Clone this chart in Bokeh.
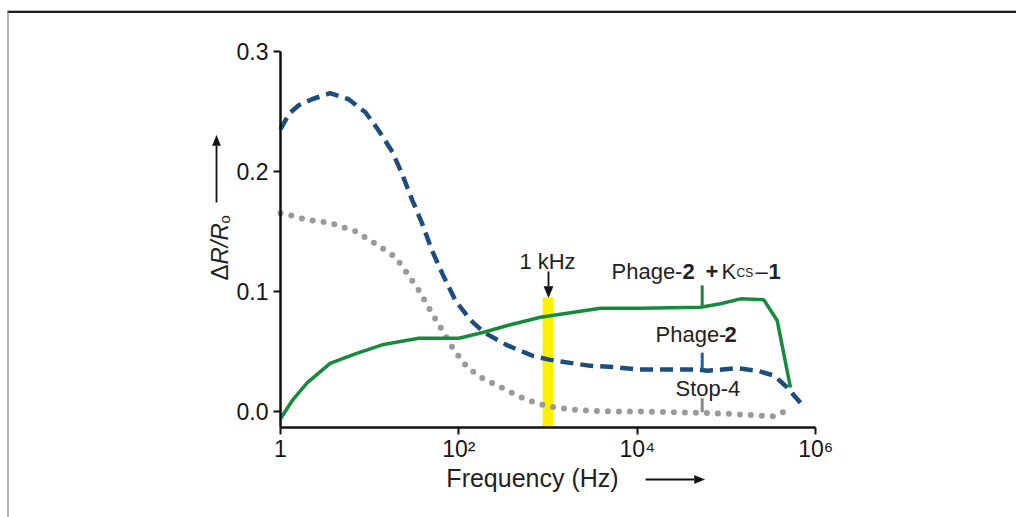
import math
from bokeh.plotting import figure
from bokeh.models import Label, FixedTicker, Range1d, LinearAxis, LogAxis
from bokeh.embed import file_html
from bokeh.resources import INLINE

# ---------------- data ----------------
freq_phage2 = [1, 1.25, 1.6, 2.25, 3.6, 5.8, 9, 12.6, 18, 23, 30, 39, 50, 65, 92,
               135, 190, 350, 690, 1060, 1940, 3000, 5500, 10000, 20000, 47000,
               61000, 132000, 220000, 340000, 480000, 735000]
dr_phage2 = [0.235, 0.248, 0.255, 0.260, 0.265, 0.260, 0.249, 0.234, 0.216, 0.198,
             0.176, 0.156, 0.134, 0.115, 0.092, 0.076, 0.066, 0.055, 0.046, 0.043,
             0.040, 0.038, 0.037, 0.035, 0.035, 0.035, 0.034, 0.036, 0.034, 0.030,
             0.020, 0.004]

freq_kcs = [1, 1.35, 2.0, 3.6, 6.9, 13.8, 35.5, 100, 190, 350, 820, 1940, 3860,
            10900, 51200, 85700, 143600, 261800, 369800, 521200]
dr_kcs = [-0.006, 0.009, 0.024, 0.040, 0.048, 0.0555, 0.061, 0.061, 0.066, 0.0716,
          0.0785, 0.0827, 0.086, 0.086, 0.0868, 0.0897, 0.0938, 0.093, 0.0758, 0.020]

freq_stop4 = [1, 1.35, 1.9, 3.6, 6.9, 12.6, 19.5, 26.3, 35.5, 48, 60, 88, 124, 175,
              270, 450, 755, 1260, 2510, 5460, 10900, 46900, 111000, 339000, 479000]
dr_stop4 = [0.165, 0.163, 0.160, 0.157, 0.150, 0.138, 0.1285, 0.115, 0.101, 0.084,
            0.072, 0.051, 0.037, 0.0286, 0.0216, 0.0133, 0.0064, 0.0031, 0.0008, 0.0,
            0.0, -0.001, -0.002, -0.004, 0.001]

x_ticks = [1, 100, 10000, 1000000]
x_tick_labels = ["1", "10\u00b2", "10\u2074", "10\u2076"]
y_ticks = [0.0, 0.1, 0.2, 0.3]
y_tick_labels = ["0.0", "0.1", "0.2", "0.3"]

marker_freq = 1000          # 1 kHz highlight
marker_top = 0.095
label_freq = 53400          # where the series labels point
tick_kcs = (0.088, 0.105)
tick_phage2 = (0.0356, 0.049)
tick_stop4 = (-0.0006, 0.011)

x_lo, x_hi = 1, 1e6
y_lo, y_hi = -0.0133, 0.3

# ---------------- layout helpers (page pixels -> data) ----------------
W, H = 1016, 517
X0_PX, DEC_PX = 280.0, 89.2      # pixel of f=1, pixels per decade
Y0_PX, UNIT_PX = 411.0, 1201.0   # pixel of 0.0, pixels per 1.0


def fx(px):
    return 10 ** ((px - X0_PX) / DEC_PX)


def fy(py):
    return (Y0_PX - py) / UNIT_PX


FONT = "Liberation Sans"
TXT = "#222222"
BLUE = "#1d4d7e"
GREEN = "#178a3b"
GRAY = "#9a9a9a"
INK = "#111111"

p = figure(width=W, height=H, x_axis_type="log",
           x_range=Range1d(fx(0), fx(W)), y_range=Range1d(fy(H), fy(0)),
           x_axis_location=None, y_axis_location=None,
           output_backend="svg", toolbar_location=None,
           min_border=0, min_border_left=0, min_border_right=0,
           min_border_top=0, min_border_bottom=0)
p.outline_line_color = None
p.xgrid.visible = False
p.ygrid.visible = False

xaxis = LogAxis(fixed_location=y_lo, bounds=(x_lo, x_hi),
                ticker=FixedTicker(ticks=x_ticks))
xaxis.major_label_overrides = {t: s for t, s in zip(x_ticks, x_tick_labels)}
yaxis = LinearAxis(fixed_location=x_lo, bounds=(y_lo, y_hi),
                   ticker=FixedTicker(ticks=y_ticks))
yaxis.major_label_overrides = {t: s for t, s in zip(y_ticks, y_tick_labels)}
for ax in (xaxis, yaxis):
    ax.axis_line_width = 2.5
    ax.axis_line_color = INK
    ax.major_tick_line_width = 2
    ax.major_tick_line_color = INK
    ax.major_tick_out = 7
    ax.major_tick_in = 0
    ax.minor_tick_line_color = None
    ax.major_label_text_font = FONT
    ax.major_label_text_font_size = "23px"
    ax.major_label_text_color = "#151515"
    ax.major_label_standoff = 5
xaxis.major_label_standoff = 2
p.add_layout(xaxis, "below")
p.add_layout(yaxis, "left")

# picture frame (top and left border of the figure panel)
p.segment(x0=[fx(7)], y0=[fy(10)], x1=[fx(W + 5)], y1=[fy(10)],
          line_color="#bbbbbb", line_width=1)
p.segment(x0=[fx(7)], y0=[fy(11.5)], x1=[fx(W + 5)], y1=[fy(11.5)],
          line_color="#1e1e1e", line_width=2)
p.segment(x0=[fx(7.5)], y0=[fy(11)], x1=[fx(7.5)], y1=[fy(H + 5)],
          line_color="#808080", line_width=1.2)

# 1 kHz highlight bar
p.segment(x0=[marker_freq], y0=[y_lo], x1=[marker_freq], y1=[marker_top],
          line_width=11, line_color="#fff000")

# series
p.line(freq_stop4, dr_stop4, line_color=GRAY, line_width=6,
       line_dash="0 11", line_cap="round")
p.line(freq_phage2, dr_phage2, line_color=BLUE, line_width=4.5,
       line_dash="13 7")
p.line(freq_kcs, dr_kcs, line_color=GREEN, line_width=3.5)

# label pointer ticks
p.segment(x0=[label_freq] * 3, x1=[label_freq] * 3,
          y0=[tick_kcs[0], tick_phage2[0], tick_stop4[0]],
          y1=[tick_kcs[1], tick_phage2[1], tick_stop4[1]],
          line_color=[GREEN, "#1f5fb8", "#8a8a8a"], line_width=3)


# ---------------- texts ----------------
def lab(text, px, py, size=22, style="normal", align="left",
        baseline="alphabetic", angle=0.0, color=TXT):
    p.add_layout(Label(x=fx(px), y=fy(py), text=text,
                       text_font=FONT, text_font_size=f"{size}px",
                       text_font_style=style, text_align=align,
                       text_baseline=baseline, angle=angle, text_color=color))


def arrow(x0, y0, x1, y1, head_len=11, head_w=4.5):
    dx, dy = x1 - x0, y1 - y0
    n = math.hypot(dx, dy)
    ux, uy = dx / n, dy / n
    bx, by = x1 - ux * head_len, y1 - uy * head_len
    p.segment(x0=[fx(x0)], y0=[fy(y0)], x1=[fx(bx)], y1=[fy(by)],
              line_color=INK, line_width=1.8)
    px_, py_ = -uy, ux
    xs = [x1, bx + px_ * head_w, bx - px_ * head_w]
    ys = [y1, by + py_ * head_w, by - py_ * head_w]
    p.patch([fx(v) for v in xs], [fy(v) for v in ys], fill_color=INK,
            line_color=INK, line_width=0.5)


# 1 kHz marker
lab("1 kHz", 547, 261, size=22, align="center")
arrow(548, 271, 548, 297)

# Phage-2 + Kcs-1
BL1 = 271
lab("Phage-", 611, BL1)
lab("2", 682, BL1, style="bold")
lab("+", 705, BL1, style="bold")
lab("K", 721, BL1)
lab("CS", 736, BL1 + 1, size=12)
lab("\u2013", 755, BL1)
lab("1", 768, BL1, style="bold")

# Phage-2
lab("Phage-", 655, 334)
lab("2", 724, 334, style="bold")

# Stop-4
lab("Stop-4", 675, 388)

# x axis title + arrow
lab("Frequency (Hz)", 532, 477, size=25, align="center")
arrow(645, 479, 704, 479, head_len=10, head_w=4)

# y axis title (rotated) + arrow
lab("\u0394", 219, 280, size=24, align="left", baseline="middle", angle=math.pi / 2)
lab("R/R", 219, 264, size=24, style="italic", align="left", baseline="middle",
    angle=math.pi / 2)
lab("o", 224, 223, size=15, align="left", baseline="middle", angle=math.pi / 2)
arrow(216, 202, 216, 135, head_len=10, head_w=4)

open("out.html", "w").write(file_html(p, INLINE))
